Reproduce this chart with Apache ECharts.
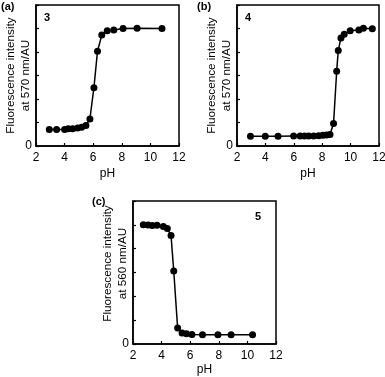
<!DOCTYPE html>
<html><head><meta charset="utf-8">
<script src="https://cdn.jsdelivr.net/npm/echarts@6/dist/echarts.min.js"></script>
<style>html,body{margin:0;padding:0;background:#fff}#c{width:385px;height:377px}</style>
</head><body><div id="c"></div>
<script>
// Panel (a): compound 3
var phA = [2.93, 3.44, 4.0, 4.26, 4.56, 4.91, 5.19, 5.49, 5.77, 6.05, 6.30, 6.60, 6.98, 7.44, 8.09, 9.07, 10.81];
var intA = [0.70, 0.70, 0.70, 0.73, 0.73, 0.77, 0.80, 0.87, 1.15, 2.48, 4.03, 4.72, 4.90, 4.94, 5.00, 5.01, 5.00];
// Panel (b): compound 4
var phB = [2.95, 3.99, 4.89, 5.99, 6.45, 6.75, 7.05, 7.40, 7.75, 8.05, 8.30, 8.55, 8.80, 9.02, 9.13, 9.32, 9.55, 9.97, 10.58, 10.90, 11.53];
var intB = [0.42, 0.42, 0.42, 0.43, 0.43, 0.43, 0.43, 0.43, 0.44, 0.46, 0.47, 0.49, 0.96, 3.18, 4.06, 4.60, 4.76, 4.90, 4.94, 5.01, 4.99];
// Panel (c): compound 5
var phC = [2.72, 3.05, 3.35, 3.68, 4.12, 4.40, 4.66, 4.85, 5.12, 5.43, 5.74, 6.12, 6.86, 7.94, 8.86, 10.36];
var intC = [5.00, 4.99, 4.97, 4.98, 4.93, 4.85, 4.55, 3.06, 0.67, 0.46, 0.43, 0.40, 0.39, 0.39, 0.39, 0.39];

var xTicks = [2, 4, 6, 8, 10, 12];
var panelLetters = ['(a)', '(b)', '(c)'];
var compounds = ['3', '4', '5'];
var yNames = ['Fluorescence intensity\nat 570 nm/AU', 'Fluorescence intensity\nat 570 nm/AU', 'Fluorescence intensity\nat 560 nm/AU'];
var xName = 'pH';

function zip(a, b) { return a.map(function (v, i) { return [v, b[i]]; }); }

var FONT = 'Liberation Sans, Arial, sans-serif';
var grids = [
  {left: 36, top: 5, width: 143, height: 141},
  {left: 237, top: 5, width: 142, height: 141},
  {left: 133, top: 201, width: 143, height: 143}
];
var namePads = [[0,0,0,0], [0,0,0,0], [0,0,0,18]];
var xNameGaps = [22, 22, 20];

var option = {
  animation: false,
  backgroundColor: '#fff',
  grid: grids.map(function (g) { return Object.assign({show: true, borderColor: '#000', borderWidth: 1.5, backgroundColor: 'transparent', containLabel: false, outerBoundsMode: 'none'}, g); }),
  xAxis: grids.map(function (g, i) {
    return {
      type: 'value', gridIndex: i, min: 2, max: 12, interval: 2,
      name: xName, nameLocation: 'middle', nameGap: xNameGaps[i], nameMoveOverlap: false,
      nameTextStyle: {fontFamily: FONT, fontSize: 12, color: '#000'},
      axisLine: {show: true, onZero: false, lineStyle: {color: '#000', width: 1.5}},
      axisTick: {show: true, inside: true, length: 3, lineStyle: {color: '#000', width: 1.2}},
      axisLabel: {fontFamily: FONT, fontSize: 12, color: '#000', margin: 6,
        formatter: function (v) { return xTicks.indexOf(v) >= 0 ? String(v) : ''; }},
      splitLine: {show: false}
    };
  }),
  yAxis: grids.map(function (g, i) {
    return {
      type: 'value', gridIndex: i, min: 0, max: 6, interval: 1,
      name: yNames[i], nameLocation: 'middle', nameGap: 3, nameRotate: 90, nameMoveOverlap: false,
      nameTextStyle: {fontFamily: FONT, fontSize: 11.7, color: '#000', lineHeight: 15, padding: namePads[i]},
      axisLine: {show: true, lineStyle: {color: '#000', width: 1.5}},
      axisTick: {show: true, inside: true, length: 3, lineStyle: {color: '#000', width: 1.2}},
      axisLabel: {fontFamily: FONT, fontSize: 12, color: '#000', margin: 4,
        formatter: function (v) { return v === 0 ? '0' : ''; }},
      splitLine: {show: false}
    };
  }),
  series: [zip(phA, intA), zip(phB, intB), zip(phC, intC)].map(function (d, i) {
    return {
      type: 'line', xAxisIndex: i, yAxisIndex: i, data: d,
      symbol: 'circle', symbolSize: 7,
      lineStyle: {color: '#000', width: 1.5},
      itemStyle: {color: '#000'}
    };
  }),
  graphic: [
    {type: 'text', left: 1, top: 1, style: {text: panelLetters[0], font: 'bold 11px ' + FONT, fill: '#000'}},
    {type: 'text', left: 197, top: 1, style: {text: panelLetters[1], font: 'bold 11px ' + FONT, fill: '#000'}},
    {type: 'text', left: 92, top: 196, style: {text: panelLetters[2], font: 'bold 11px ' + FONT, fill: '#000'}},
    {type: 'text', left: 44, top: 12, style: {text: compounds[0], font: 'bold 11px ' + FONT, fill: '#000'}},
    {type: 'text', left: 245, top: 12, style: {text: compounds[1], font: 'bold 11px ' + FONT, fill: '#000'}},
    {type: 'text', left: 255, top: 211, style: {text: compounds[2], font: 'bold 11px ' + FONT, fill: '#000'}}
  ]
};
var chart = echarts.init(document.getElementById('c'), null, {renderer: 'canvas'});
chart.setOption(option);
</script>
</body></html>
